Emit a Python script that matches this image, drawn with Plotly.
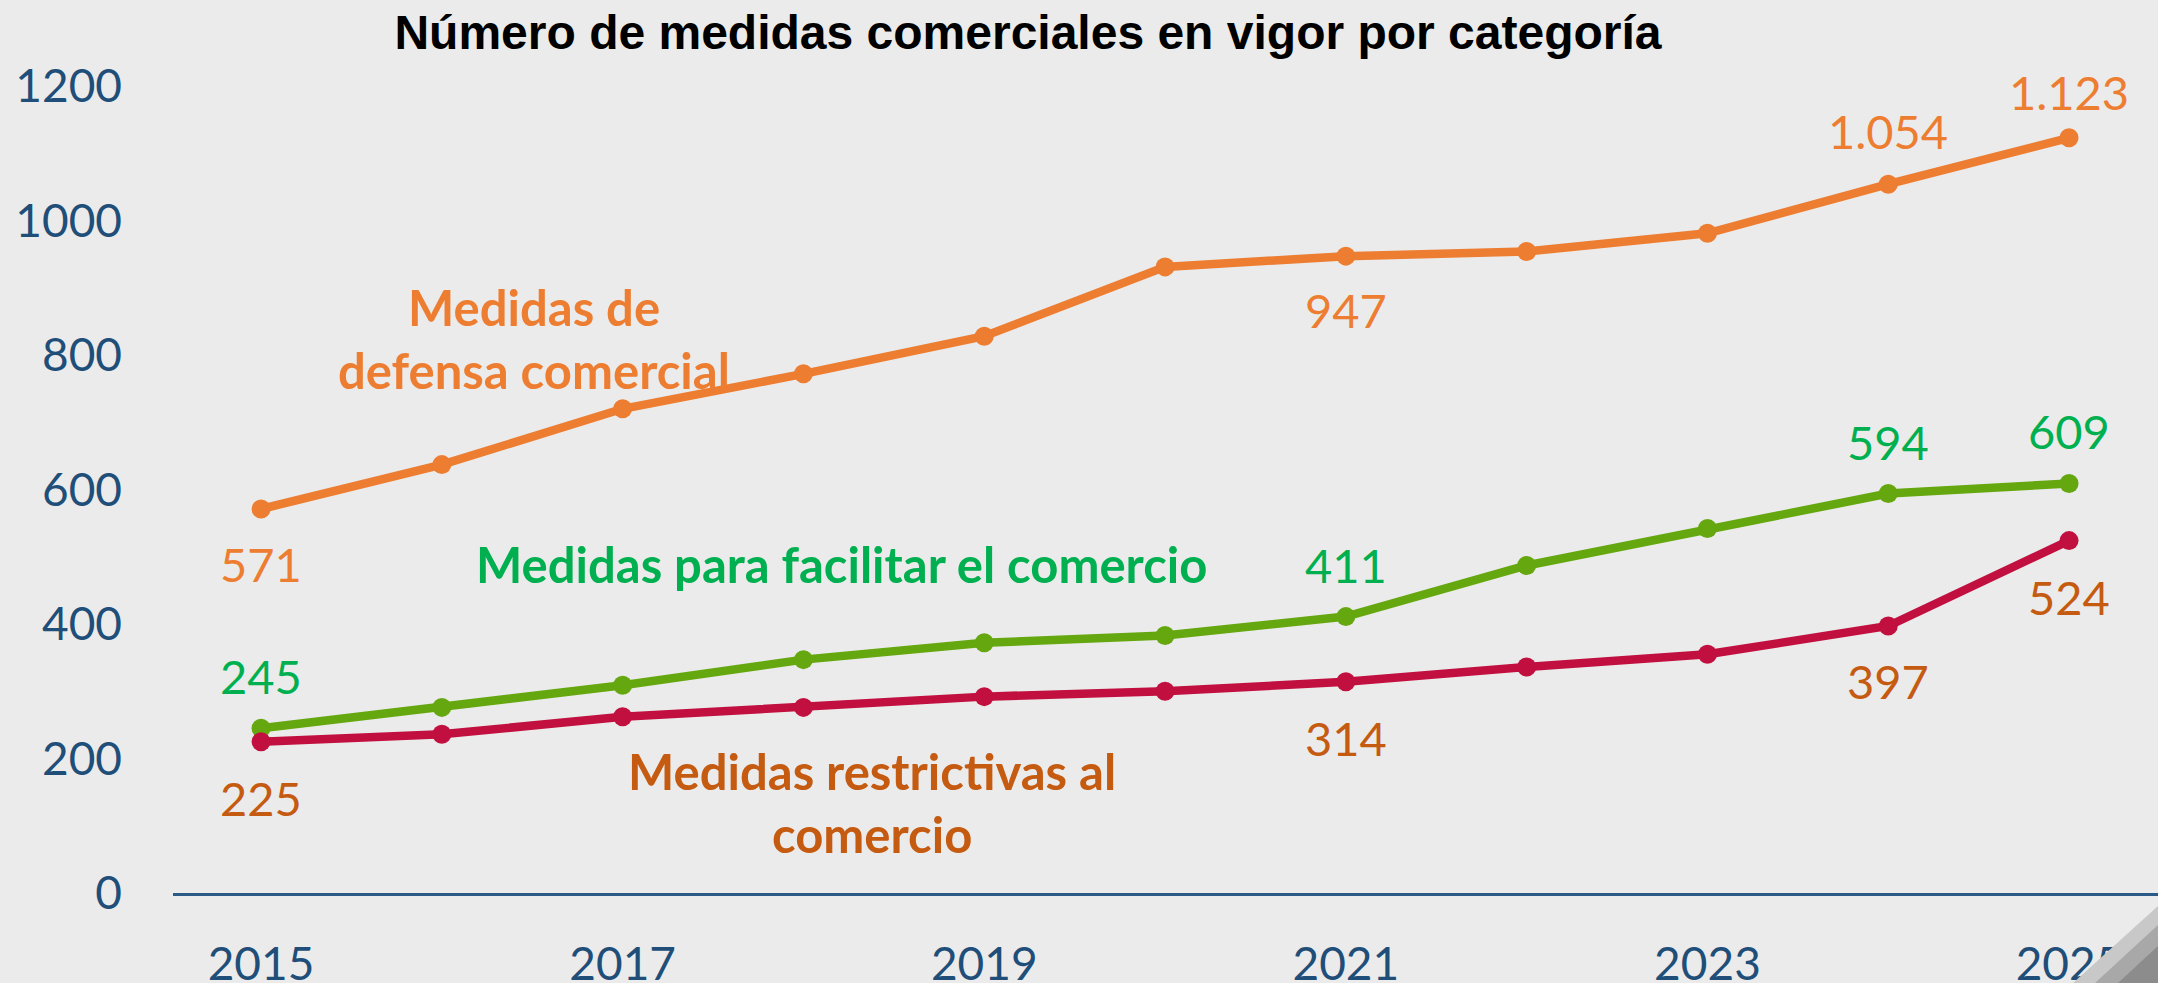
import plotly.graph_objects as go

# ---------------- data ----------------
years = [2015, 2016, 2017, 2018, 2019, 2020, 2021, 2022, 2023, 2024, 2025]
defensa = [571, 637, 720, 772, 828, 931, 947, 954, 981, 1054, 1123]
facilitar = [245, 276, 309, 347, 372, 383, 411, 487, 542, 594, 609]
restrictivas = [225, 236, 262, 276, 292, 300, 314, 336, 355, 397, 524]

y_ticks = [0, 200, 400, 600, 800, 1000, 1200]
x_ticks = [2015, 2017, 2019, 2021, 2023, 2025]

title_text = "Número de medidas comerciales en vigor por categoría"

# labelled points: (year index, text)
lab_defensa = [(0, "571"), (6, "947"), (9, "1.054"), (10, "1.123")]
lab_facilitar = [(0, "245"), (6, "411"), (9, "594"), (10, "609")]
lab_restrict = [(0, "225"), (6, "314"), (9, "397"), (10, "524")]

# ---------------- styles ----------------
BG = "#EBEBEB"
C_DEF = "#ED7D31"
C_FAC_LINE = "#65A70E"
C_FAC_TXT = "#00B050"
C_RES_LINE = "#C1103F"
C_RES_TXT = "#C55A11"
C_AXIS = "#1F4E79"
FONT = "Lato"

W, H = 2158, 983
L, R, T, B = 173, 0, 86, 90

fig = go.Figure()
for vals, col in [(defensa, C_DEF), (facilitar, C_FAC_LINE), (restrictivas, C_RES_LINE)]:
    fig.add_trace(go.Scatter(
        x=years, y=vals, mode="lines+markers",
        line=dict(color=col, width=8.5),
        marker=dict(color=col, size=19),
        cliponaxis=False, showlegend=False, hoverinfo="x+y",
    ))

annotations = []

def add_labels(series, labels, color, shifts):
    for (i, txt), dy in zip(labels, shifts):
        annotations.append(dict(
            x=years[i], y=series[i], xref="x", yref="y", text=txt,
            showarrow=False, yshift=dy,
            font=dict(family=FONT, size=47, color=color),
            xanchor="center", yanchor="middle",
        ))

add_labels(defensa, lab_defensa, C_DEF, [-55, -54, 53, 46])
add_labels(facilitar, lab_facilitar, C_FAC_TXT, [52, 52, 52, 52])
add_labels(restrictivas, lab_restrict, C_RES_TXT, [-56, -56, -55, -56])

# series name labels
def name_label(text, x, y, color):
    annotations.append(dict(
        x=x, y=y, xref="x", yref="y", text="<b>%s</b>" % text,
        showarrow=False, xanchor="center", yanchor="middle",
        font=dict(family=FONT, size=49, color=color),
    ))

name_label("Medidas de", 2016.51, 872, C_DEF)
name_label("defensa comercial", 2016.51, 777, C_DEF)
name_label("Medidas para facilitar el comercio", 2018.21, 489, C_FAC_TXT)
name_label("Medidas restrictivas al", 2018.38, 182, C_RES_TXT)
name_label("comercio", 2018.38, 87, C_RES_TXT)

fig.update_layout(annotations=annotations)

# page curl decoration (pixel -> paper conversion)
pw, ph = W - L - R, H - T - B
def px(x):
    return (x - L) / pw
def py(y):
    return (H - B - y) / ph

curl_layers = [
    ((2073, 983), (2158, 906), "#C8C8C8"),
    ((2095, 983), (2158, 925), "#A8A8A8"),
    ((2118, 983), (2158, 946), "#8C8C8C"),
]
shapes = []
for (x0, y0), (x1, y1), col in curl_layers:
    shapes.append(dict(
        type="path", xref="paper", yref="paper",
        path="M %f %f L %f %f L %f %f Z" % (px(x0), py(y0), px(x1), py(y1), px(W), py(H)),
        fillcolor=col, line=dict(width=0), layer="above",
    ))

fig.update_layout(
    width=W, height=H, autosize=False,
    margin=dict(l=L, r=R, t=T, b=B, pad=0, autoexpand=False),
    paper_bgcolor=BG, plot_bgcolor=BG,
    font=dict(family=FONT, color=C_AXIS),
    title=dict(
        text="<b>%s</b>" % title_text,
        x=1028 / W, xref="container", xanchor="center",
        y=1 - 32 / H, yref="container", yanchor="middle",
        font=dict(family="Liberation Sans, Arial", size=48, color="#000000"),
        automargin=False,
    ),
    shapes=shapes,
    xaxis=dict(
        range=[2014.513, 2025.492], tickvals=x_ticks, ticktext=[str(v) for v in x_ticks],
        showgrid=False, zeroline=False, showline=True, linecolor="#2B5A87", linewidth=3,
        ticks="", ticklabelstandoff=29, automargin=False,
        tickfont=dict(family=FONT, size=46, color=C_AXIS),
    ),
    yaxis=dict(
        range=[0, 1200], tickvals=y_ticks, ticktext=[str(v) for v in y_ticks],
        showgrid=False, zeroline=False, showline=False,
        ticks="", ticklabelstandoff=50, automargin=False,
        tickfont=dict(family=FONT, size=46, color=C_AXIS),
    ),
    hovermode="closest",
)

fig.write_html(
    "out.html",
    config={"displayModeBar": False},
    post_script="document.body.style.margin='0';document.body.style.padding='0';document.body.style.overflow='hidden';",
)
